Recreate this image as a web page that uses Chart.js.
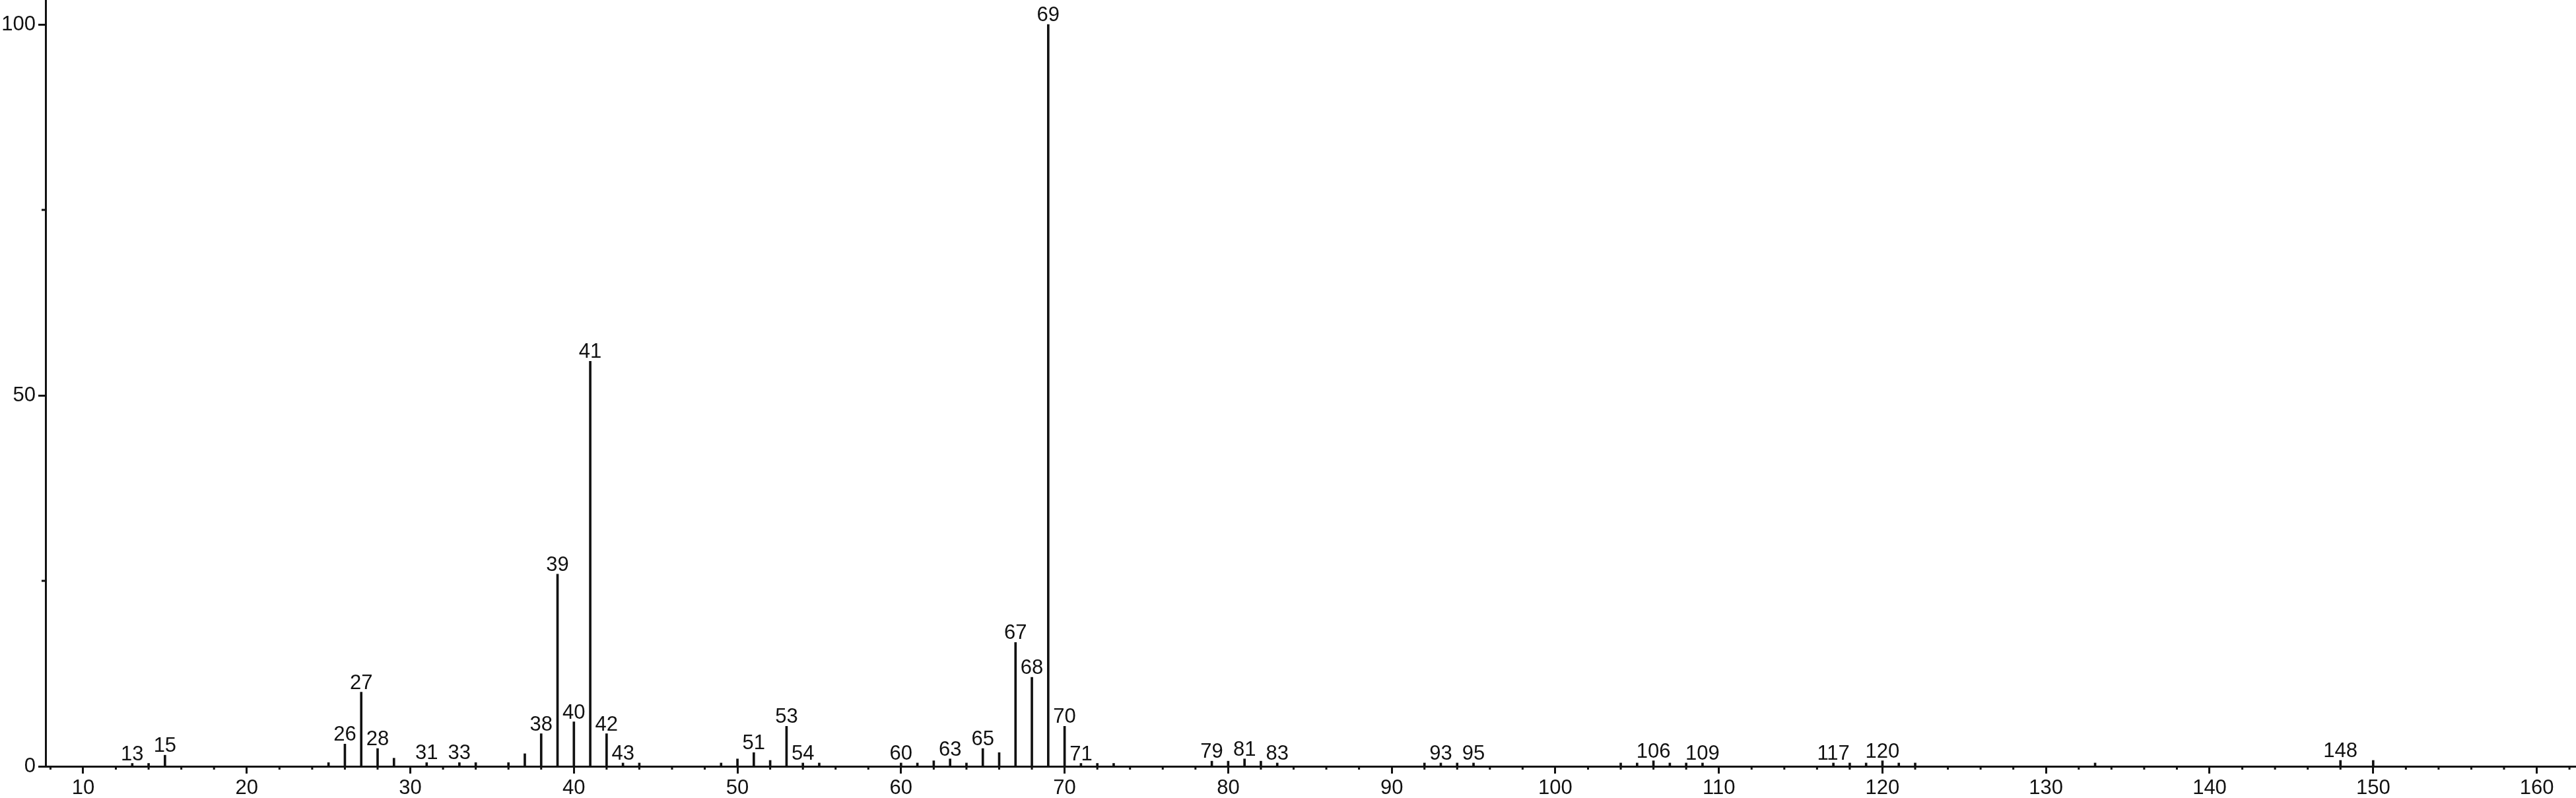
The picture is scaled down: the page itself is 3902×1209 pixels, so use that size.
<!DOCTYPE html>
<html>
<head>
<meta charset="utf-8">
<script src="https://cdn.jsdelivr.net/npm/chart.js@4/dist/chart.umd.min.js"></script>
<style>
  html, body { margin: 0; padding: 0; background: #fff; overflow: hidden; }
  canvas { display: block; }
</style>
</head>
<body>
<canvas id="spectrum" width="3902" height="1209" style="width:3902px;height:1209px"></canvas>
<script>
'use strict'

// m/z values and relative intensities
const mz = [
  13, 14, 15, 25, 26, 27, 28, 29, 31, 33, 34, 36, 37, 38, 39, 40, 41, 42, 43, 44,
  49, 50, 51, 52, 53, 54, 55, 60, 61, 62, 63, 64, 65, 66, 67, 68, 69, 70, 71, 72,
  73, 79, 80, 81, 82, 83, 92, 93, 94, 95, 104, 105, 106, 107, 108, 109, 117, 118,
  119, 120, 121, 122, 133, 148, 150
];
const intensity = [
  0.4, 0.4, 1.5, 0.5, 3.0, 10.0, 2.4, 1.1, 0.5, 0.5, 0.5, 0.5, 1.7, 4.4, 25.9, 6.0, 54.6, 4.4, 0.45, 0.45,
  0.45, 1.0, 1.85, 0.8, 5.4, 0.45, 0.45, 0.45, 0.45, 0.75, 1.0, 0.45, 2.4, 1.85, 16.7, 12.0, 100, 5.4, 0.4, 0.4,
  0.4, 0.7, 0.7, 1.0, 0.7, 0.45, 0.45, 0.45, 0.45, 0.45, 0.45, 0.45, 0.75, 0.45, 0.45, 0.45, 0.45, 0.45,
  0.45, 0.75, 0.45, 0.45, 0.45, 0.8, 0.8
];
// peaks that carry a number above them
const labeledMz = [
  13, 15, 26, 27, 28, 31, 33, 38, 39, 40, 41, 42, 43, 51, 53, 54, 60, 63, 65, 67,
  68, 69, 70, 71, 79, 81, 83, 93, 95, 106, 109, 117, 120, 148
];
const xTickStep = 2;
const xLabelStep = 10;
const yTickStep = 25;
const yLabelStep = 50;

const ink = '#111';
const fontFamily = '"Liberation Sans", Arial, Helvetica, sans-serif';

const points = mz.map((m, i) => ({ x: m, y: intensity[i] }));

// numbers above the peaks, placed from the bar elements
const peakLabels = {
  id: 'peakLabels',
  afterDatasetsDraw(chart) {
    const ctx = chart.ctx;
    const meta = chart.getDatasetMeta(0);
    ctx.save();
    ctx.fillStyle = ink;
    ctx.font = '31px ' + fontFamily;
    ctx.textAlign = 'center';
    ctx.textBaseline = 'alphabetic';
    meta.data.forEach((bar, i) => {
      if (labeledMz.includes(mz[i])) {
        ctx.fillText(String(mz[i]), bar.x, bar.y - 5);
      }
    });
    ctx.restore();
  }
};

// short minor ticks (Chart.js gives one tick length per axis)
const minorTicks = {
  id: 'minorTicks',
  afterDraw(chart) {
    const ctx = chart.ctx;
    const xs = chart.scales.x;
    const ys = chart.scales.y;
    ctx.save();
    ctx.strokeStyle = ink;
    ctx.lineWidth = 3;
    ctx.beginPath();
    xs.ticks.forEach((t, i) => {
      if (t.value % xLabelStep !== 0) {
        const px = xs.getPixelForTick(i);
        ctx.moveTo(px, xs.top);
        ctx.lineTo(px, xs.top + 5);
      }
    });
    ys.ticks.forEach((t, i) => {
      if (t.value % yLabelStep !== 0) {
        const py = ys.getPixelForTick(i);
        ctx.moveTo(ys.right, py);
        ctx.lineTo(ys.right - 6, py);
      }
    });
    ctx.stroke();
    ctx.restore();
  }
};

const chart = new Chart(document.getElementById('spectrum'), {
  type: 'bar',
  data: {
    datasets: [{
      data: points,
      backgroundColor: ink,
      borderWidth: 0,
      barThickness: 3
    }]
  },
  options: {
    responsive: false,
    animation: false,
    devicePixelRatio: 1,
    layout: { padding: 0 },
    plugins: {
      legend: { display: false },
      tooltip: { enabled: false }
    },
    scales: {
      x: {
        type: 'linear',
        offset: false,
        min: 7.7,
        max: 162.4,
        afterFit(scale) {
          scale.height = 48;
          scale.paddingLeft = 0;
          scale.paddingRight = 0;
        },
        border: { display: true, color: ink, width: 3 },
        grid: {
          offset: false,
          drawOnChartArea: false,
          drawTicks: true,
          tickLength: 11,
          tickWidth: 3,
          tickColor: c => (c.tick && c.tick.value % xLabelStep === 0) ? ink : 'rgba(0,0,0,0)'
        },
        ticks: {
          stepSize: xTickStep,
          includeBounds: false,
          autoSkip: false,
          maxRotation: 0,
          padding: 4,
          color: ink,
          font: { family: fontFamily, size: 31 },
          callback: v => (v % xLabelStep === 0 ? String(v) : '')
        }
      },
      y: {
        min: 0,
        max: 103.3,
        afterFit(scale) {
          scale.width = 69;
          scale.paddingTop = 0;
          scale.paddingBottom = 0;
        },
        border: { display: true, color: ink, width: 3 },
        grid: {
          drawOnChartArea: false,
          drawTicks: true,
          tickLength: 11,
          tickWidth: 3,
          tickColor: c => (c.tick && c.tick.value % yLabelStep === 0) ? ink : 'rgba(0,0,0,0)'
        },
        ticks: {
          stepSize: yTickStep,
          includeBounds: false,
          padding: 4,
          color: ink,
          font: { family: fontFamily, size: 31 },
          callback: v => (v % yLabelStep === 0 ? String(v) : '')
        }
      }
    }
  },
  plugins: [peakLabels, minorTicks]
});
</script>
</body>
</html>
